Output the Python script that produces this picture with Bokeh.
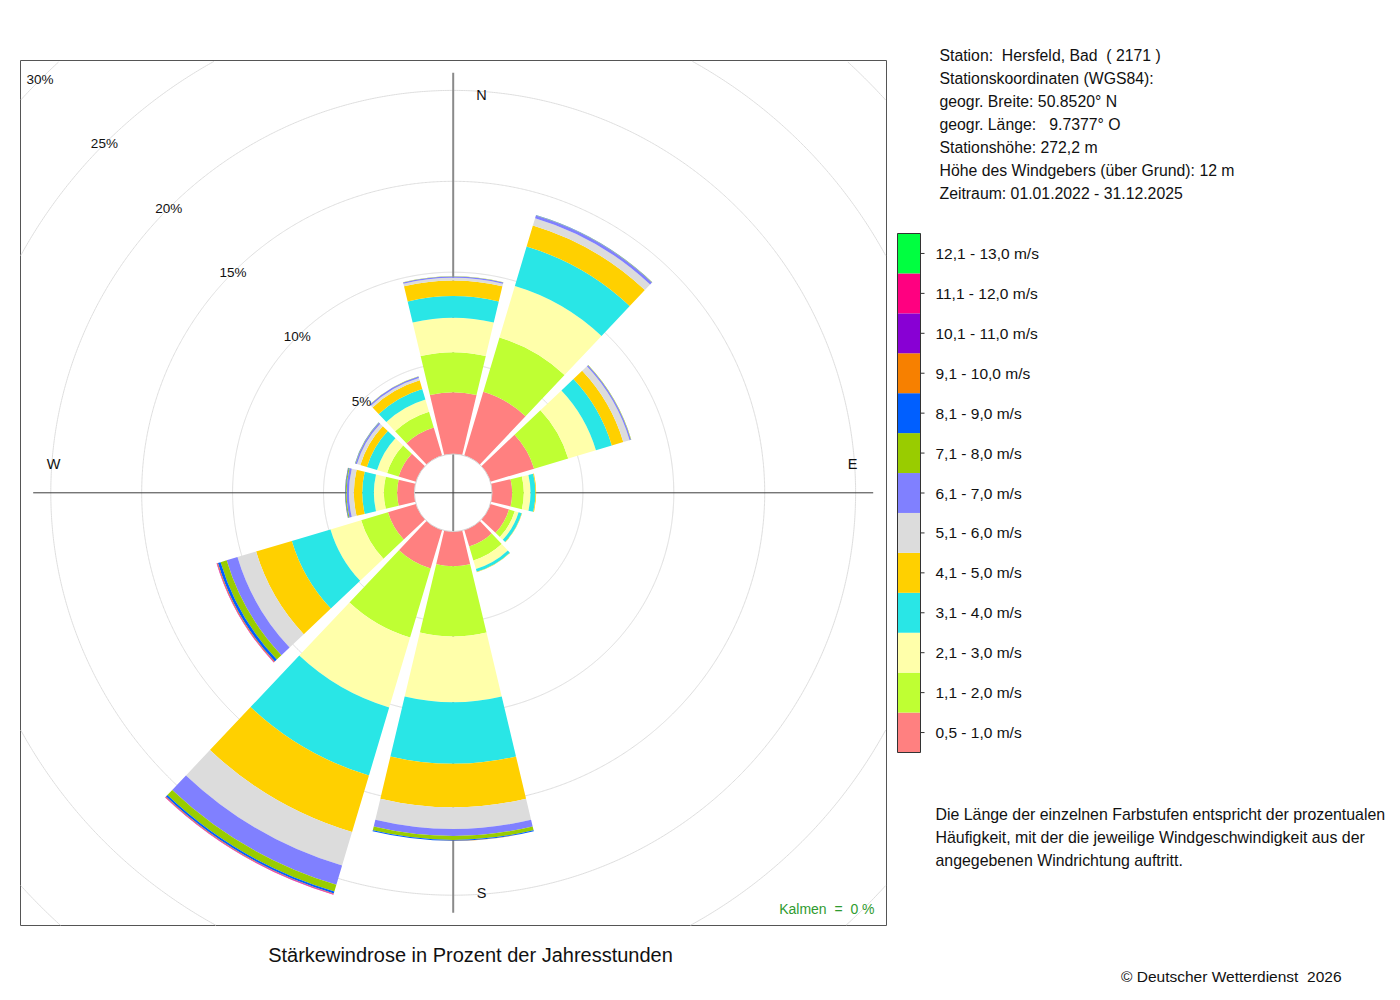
import numpy as np
from bokeh.plotting import figure
from bokeh.models import ColumnDataSource, Range1d
from bokeh.embed import file_html
from bokeh.resources import INLINE
from bokeh.core.properties import value

# ---------------- data ----------------
directions = [0, 30, 60, 90, 120, 150, 180, 210, 240, 270, 300, 330]

speed_classes = ["0,5 - 1,0 m/s", "1,1 - 2,0 m/s", "2,1 - 3,0 m/s", "3,1 - 4,0 m/s",
                 "4,1 - 5,0 m/s", "5,1 - 6,0 m/s", "6,1 - 7,0 m/s", "7,1 - 8,0 m/s",
                 "8,1 - 9,0 m/s", "9,1 - 10,0 m/s", "10,1 - 11,0 m/s", "11,1 - 12,0 m/s",
                 "12,1 - 13,0 m/s"]

class_colors = ["#ff8080", "#bfff33", "#ffffaa", "#29e6e6", "#ffd000", "#dcdcdc",
                "#8080ff", "#99cc00", "#005fff", "#f78000", "#8800d4", "#ff0080",
                "#00ff40"]

# percent of hours per direction, one list per speed class
s_05_10 = [3.40, 3.66, 2.51, 1.11, 1.07, 0.95, 1.90, 2.21, 1.61, 0.95, 1.00, 1.61]
s_11_20 = [2.20, 3.12, 1.96, 0.64, 0.33, 0.80, 3.87, 3.96, 1.54, 0.73, 0.66, 0.91]
s_21_30 = [1.89, 2.96, 1.59, 0.37, 0.22, 0.49, 3.61, 4.02, 1.76, 0.55, 0.58, 0.70]
s_31_40 = [1.19, 2.26, 0.91, 0.27, 0.18, 0.16, 3.39, 3.90, 2.22, 0.64, 0.58, 0.61]
s_41_50 = [0.86, 1.21, 0.66, 0.04, 0.02, 0.02, 2.39, 3.25, 2.05, 0.46, 0.38, 0.49]
s_51_60 = [0.15, 0.42, 0.36, 0.00, 0.00, 0.00, 1.19, 1.92, 1.07, 0.27, 0.19, 0.14]
s_61_70 = [0.07, 0.15, 0.08, 0.00, 0.00, 0.00, 0.38, 1.10, 0.62, 0.13, 0.09, 0.08]
s_71_80 = [0.01, 0.02, 0.02, 0.00, 0.00, 0.00, 0.22, 0.39, 0.35, 0.05, 0.02, 0.01]
s_81_90 = [0.00, 0.01, 0.00, 0.00, 0.00, 0.00, 0.05, 0.11, 0.15, 0.03, 0.01, 0.00]
s_91_100 = [0.00, 0.00, 0.00, 0.00, 0.00, 0.00, 0.01, 0.03, 0.04, 0.01, 0.00, 0.00]
s_101_110 = [0.00, 0.00, 0.00, 0.00, 0.00, 0.00, 0.00, 0.02, 0.02, 0.00, 0.00, 0.00]
s_111_120 = [0.00, 0.00, 0.00, 0.00, 0.00, 0.00, 0.00, 0.02, 0.02, 0.00, 0.00, 0.00]
s_121_130 = [0.00, 0.00, 0.00, 0.00, 0.00, 0.00, 0.00, 0.00, 0.00, 0.00, 0.00, 0.00]

series = [s_05_10, s_11_20, s_21_30, s_31_40, s_41_50, s_51_60, s_61_70, s_71_80,
          s_81_90, s_91_100, s_101_110, s_111_120, s_121_130]

ring_ticks = [5, 10, 15, 20, 25, 30]
ring_labels = ["5%", "10%", "15%", "20%", "25%", "30%"]

compass = ["N", "E", "S", "W"]

NB = "\u00a0"
info_lines = ["Station:" + NB + " Hersfeld, Bad" + NB + " ( 2171 )",
              "Stationskoordinaten (WGS84):",
              "geogr. Breite: 50.8520\u00b0 N",
              "geogr. L\u00e4nge:" + NB + NB + " 9.7377\u00b0 O",
              "Stationsh\u00f6he: 272,2 m",
              "H\u00f6he des Windgebers (\u00fcber Grund): 12 m",
              "Zeitraum: 01.01.2022 - 31.12.2025"]

note_lines = ["Die L\u00e4nge der einzelnen Farbstufen entspricht der prozentualen",
              "H\u00e4ufigkeit, mit der die jeweilige Windgeschwindigkeit aus der",
              "angegebenen Windrichtung auftritt."]

title_text = "St\u00e4rkewindrose in Prozent der Jahresstunden"
calm_text = "Kalmen" + NB + " =" + NB + " 0 %"
copyright_text = "\u00a9 Deutscher Wetterdienst" + NB + " 2026"

# ---------------- geometry / style ----------------
W, H = 1392, 992
ORG = 0                    # page position of the canvas origin
CX, CY = 452.7, 492.3      # page position of the rose centre
K = 18.18                  # pixels per percent
R0 = 38.8 / K              # hole radius (in percent units)
HW = 13.4                  # half width of a sector in degrees
FONT = value("Liberation Sans")


def X(px):
    return (px - CX) / K


def Y(py):
    return (CY - py) / K


p = figure(width=W, height=H, output_backend="svg", toolbar_location=None,
           x_range=Range1d(X(ORG), X(ORG + W)), y_range=Range1d(Y(ORG + H), Y(ORG)),
           x_axis_type=None, y_axis_type=None, min_border=0,
           outline_line_color=None, background_fill_color="white",
           border_fill_color="white")
p.xgrid.visible = False
p.ygrid.visible = False

# rose frame box
bl, br, bt, bb = X(20), X(886), Y(60), Y(925)
p.quad(left=[bl], right=[br], top=[bt], bottom=[bb], fill_color=None,
       line_color="#555555", line_width=1)

# grid circles clipped to the frame
theta = np.linspace(0, 2 * np.pi, 1441)
for r in ring_ticks:
    gx = (R0 + r) * np.cos(theta)
    gy = (R0 + r) * np.sin(theta)
    inside = (gx > bl) & (gx < br) & (gy > bb) & (gy < bt)
    gx = np.where(inside, gx, np.nan)
    gy = np.where(inside, gy, np.nan)
    p.line(gx, gy, line_color="#dedede", line_width=1)

# axis cross
L = 420.0 / K
p.segment(x0=[0], y0=[-L], x1=[0], y1=[L], line_color="#8a8a8a", line_width=2)
p.segment(x0=[-L], y0=[0], x1=[L], y1=[0], line_color="#3c3c3c", line_width=1)

# wedges
inner, outer, start, end, col = [], [], [], [], []
for i, d in enumerate(directions):
    cum = 0.0
    for j, s in enumerate(series):
        v = s[i]
        if v <= 0:
            continue
        inner.append(R0 + cum)
        outer.append(R0 + cum + v)
        cum += v
        start.append(np.deg2rad(90 - d - HW))
        end.append(np.deg2rad(90 - d + HW))
        col.append(class_colors[j])
wsrc = ColumnDataSource(dict(inner=inner, outer=outer, start=start, end=end, color=col))
p.annular_wedge(x=0, y=0, inner_radius="inner", outer_radius="outer",
                start_angle="start", end_angle="end", fill_color="color",
                line_color=None, source=wsrc)

# hole outline
p.circle(x=[0], y=[0], radius=R0, fill_color=None, line_color="#d4d4d4", line_width=1)

# ring labels along the NW diagonal
a = np.deg2rad(135)
p.text(x=[(R0 + r) * np.cos(a) for r in ring_ticks],
       y=[(R0 + r) * np.sin(a) for r in ring_ticks],
       text=ring_labels, text_font=FONT, text_font_size=value("13.5px"),
       text_align="center", text_baseline="middle", text_color="#111111")

# compass letters
p.text(x=[X(481), X(852), X(481), X(53)], y=[Y(94), Y(463), Y(892), Y(463)],
       text=compass, text_font=FONT, text_font_size=value("14.5px"),
       text_align="center", text_baseline="middle", text_color="#111111")

# calm text
p.text(x=[X(874)], y=[Y(908)], text=[calm_text], text_font=FONT,
       text_font_size=value("14px"), text_align="right", text_baseline="middle",
       text_color="#2f9b2f")

# title
p.text(x=[X(470)], y=[Y(954)], text=[title_text], text_font=FONT,
       text_font_size=value("20px"), text_align="center", text_baseline="middle",
       text_color="#111111")

# info block
p.text(x=[X(939)] * len(info_lines), y=[Y(55 + 23 * k) for k in range(len(info_lines))],
       text=info_lines, text_font=FONT, text_font_size=value("15.8px"),
       text_align="left", text_baseline="middle", text_color="#111111")

# colour legend
n = len(class_colors)
top_px, bot_px = 233.0, 752.0
cell = (bot_px - top_px) / n
ltop = [Y(bot_px - cell * (k + 1)) for k in range(n)]
lbot = [Y(bot_px - cell * k) for k in range(n)]
p.quad(left=[X(897)] * n, right=[X(920)] * n, top=ltop, bottom=lbot,
       fill_color=class_colors, line_color=None)
p.quad(left=[X(897)], right=[X(920)], top=[Y(top_px)], bottom=[Y(bot_px)],
       fill_color=None, line_color="#333333", line_width=1)
centers = [Y(bot_px - cell * (k + 0.5)) for k in range(n)]
p.segment(x0=[X(920)] * n, y0=centers, x1=[X(924)] * n, y1=centers,
          line_color="#333333", line_width=1)
p.text(x=[X(935)] * n, y=centers, text=speed_classes, text_font=FONT,
       text_font_size=value("15.5px"), text_align="left", text_baseline="middle",
       text_color="#111111")

# note
p.text(x=[X(935)] * len(note_lines), y=[Y(814 + 23 * k) for k in range(len(note_lines))],
       text=note_lines, text_font=FONT, text_font_size=value("15.9px"),
       text_align="left", text_baseline="middle", text_color="#111111")

# copyright
p.text(x=[X(1341)], y=[Y(976)], text=[copyright_text], text_font=FONT,
       text_font_size=value("15.5px"), text_align="right", text_baseline="middle",
       text_color="#111111")

open("out.html", "w").write(file_html(p, INLINE))
